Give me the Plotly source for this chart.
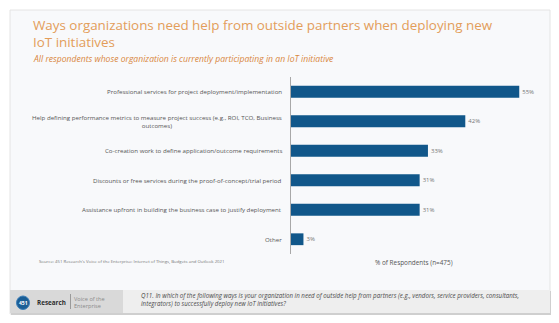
import plotly.graph_objects as go

categories = [
    "Professional services for project deployment/implementation",
    "Help defining performance metrics to measure project success (e.g., ROI, TCO, Business<br>outcomes)",
    "Co-creation work to define application/outcome requirements",
    "Discounts or free services during the proof-of-concept/trial period",
    "Assistance upfront in building the business case to justify deployment",
    "Other",
]
values = [55, 42, 33, 31, 31, 3]
value_labels = ["55%", "42%", "33%", "31%", "31%", "3%"]

W, H = 559, 323
L, R, T, B = 291, 19, 77, 69
PW, PH = W - L - R, H - T - B

def px(x):
    return (x - L) / PW

def py(y):
    return (H - B - y) / PH

fig = go.Figure()
fig.add_trace(go.Bar(
    y=categories, x=values, orientation="h",
    marker=dict(color="#11578a", line=dict(width=0)),
    text=value_labels, textposition="outside",
    textfont=dict(size=6, color="#777777", family="Open Sans"),
    cliponaxis=False, hoverinfo="skip",
))

shapes = [
    dict(type="rect", xref="paper", yref="paper", x0=px(10), x1=px(550), y0=py(10), y1=py(314),
         fillcolor="#f8f9fb", line=dict(color="#e4e4e4", width=1), layer="below"),
    dict(type="rect", xref="paper", yref="paper", x0=px(11), x1=px(551), y0=py(291), y1=py(315),
         fillcolor="#cfcfcf", line=dict(width=0), layer="below"),
    dict(type="rect", xref="paper", yref="paper", x0=px(10), x1=px(123), y0=py(290), y1=py(313),
         fillcolor="#d9d9d9", line=dict(width=0), layer="below"),
    dict(type="rect", xref="paper", yref="paper", x0=px(123), x1=px(550), y0=py(290), y1=py(313),
         fillcolor="#eeeeee", line=dict(width=0), layer="below"),
    dict(type="circle", xref="paper", yref="paper", x0=px(16.5), x1=px(29.5), y0=py(296), y1=py(309.5),
         fillcolor="#1b5e96", line=dict(color="#3d7fb8", width=1)),
    dict(type="line", xref="paper", yref="paper", x0=px(70.5), x1=px(70.5), y0=py(294), y1=py(309),
         line=dict(color="#9a9a9a", width=1)),
]

annotations = [
    dict(text="Ways organizations need help from outside partners when deploying new<br>IoT initiatives",
         xref="paper", yref="paper", x=px(31), y=py(14), xanchor="left", yanchor="top", align="left",
         showarrow=False, font=dict(family="Open Sans", size=13.4, color="#e39d5a")),
    dict(text="<i>All respondents whose organization is currently participating in an IoT initiative</i>",
         xref="paper", yref="paper", x=px(31), y=py(59.5), xanchor="left", yanchor="middle",
         showarrow=False, font=dict(family="Open Sans", size=8.6, color="#d9873d")),
    dict(text="Source: 451 Research's Voice of the Enterprise: Internet of Things, Budgets and Outlook 2021",
         xref="paper", yref="paper", x=px(37), y=py(261), xanchor="left", yanchor="middle",
         showarrow=False, font=dict(family="Open Sans", size=4.3, color="#777777")),
    dict(text="% of Respondents (n=475)",
         xref="paper", yref="paper", x=px(414), y=py(262), xanchor="center", yanchor="middle",
         showarrow=False, font=dict(family="Open Sans", size=6.4, color="#555555")),
    dict(text="<b>451</b>", xref="paper", yref="paper", x=px(23), y=py(302.8), xanchor="center", yanchor="middle",
         showarrow=False, font=dict(family="Open Sans", size=5, color="#ffffff")),
    dict(text="<b>Research</b>", xref="paper", yref="paper", x=px(35), y=py(302.5), xanchor="left", yanchor="middle",
         showarrow=False, font=dict(family="Open Sans", size=6.3, color="#2e2e2e")),
    dict(text="Voice of the<br>Enterprise", xref="paper", yref="paper", x=px(72), y=py(302), xanchor="left",
         yanchor="middle", align="left", showarrow=False,
         font=dict(family="Open Sans", size=5.6, color="#8a8a8a")),
    dict(text="<i>Q11. In which of the following ways is your organization in need of outside help from partners (e.g., vendors, service providers, consultants,<br>integrators) to successfully deploy new IoT initiatives?</i>",
         xref="paper", yref="paper", x=px(139), y=py(299.5), xanchor="left", yanchor="middle", align="left",
         showarrow=False, font=dict(family="Open Sans", size=6.2, color="#4a4a4a")),
]

for c in categories:
    annotations.append(dict(
        text=c, xref="x", yref="y", x=0, y=c, xanchor="right", yanchor="middle", align="center",
        xshift=-7, showarrow=False, font=dict(family="Open Sans", size=6.15, color="#555555"),
    ))

fig.update_layout(
    width=W, height=H,
    margin=dict(l=L, r=R, t=T, b=B, pad=0),
    paper_bgcolor="#ffffff", plot_bgcolor="rgba(0,0,0,0)",
    bargap=0.6, showlegend=False,
    shapes=shapes, annotations=annotations,
    xaxis=dict(range=[0, 60], showgrid=False, zeroline=False, showticklabels=False, showline=False,
               fixedrange=True),
    yaxis=dict(autorange="reversed", showgrid=False, zeroline=False, showticklabels=False,
               showline=True, linecolor="#a8a8a8", linewidth=1, ticks="", fixedrange=True),
)

fig.write_html("out.html", config={"displayModeBar": False})
